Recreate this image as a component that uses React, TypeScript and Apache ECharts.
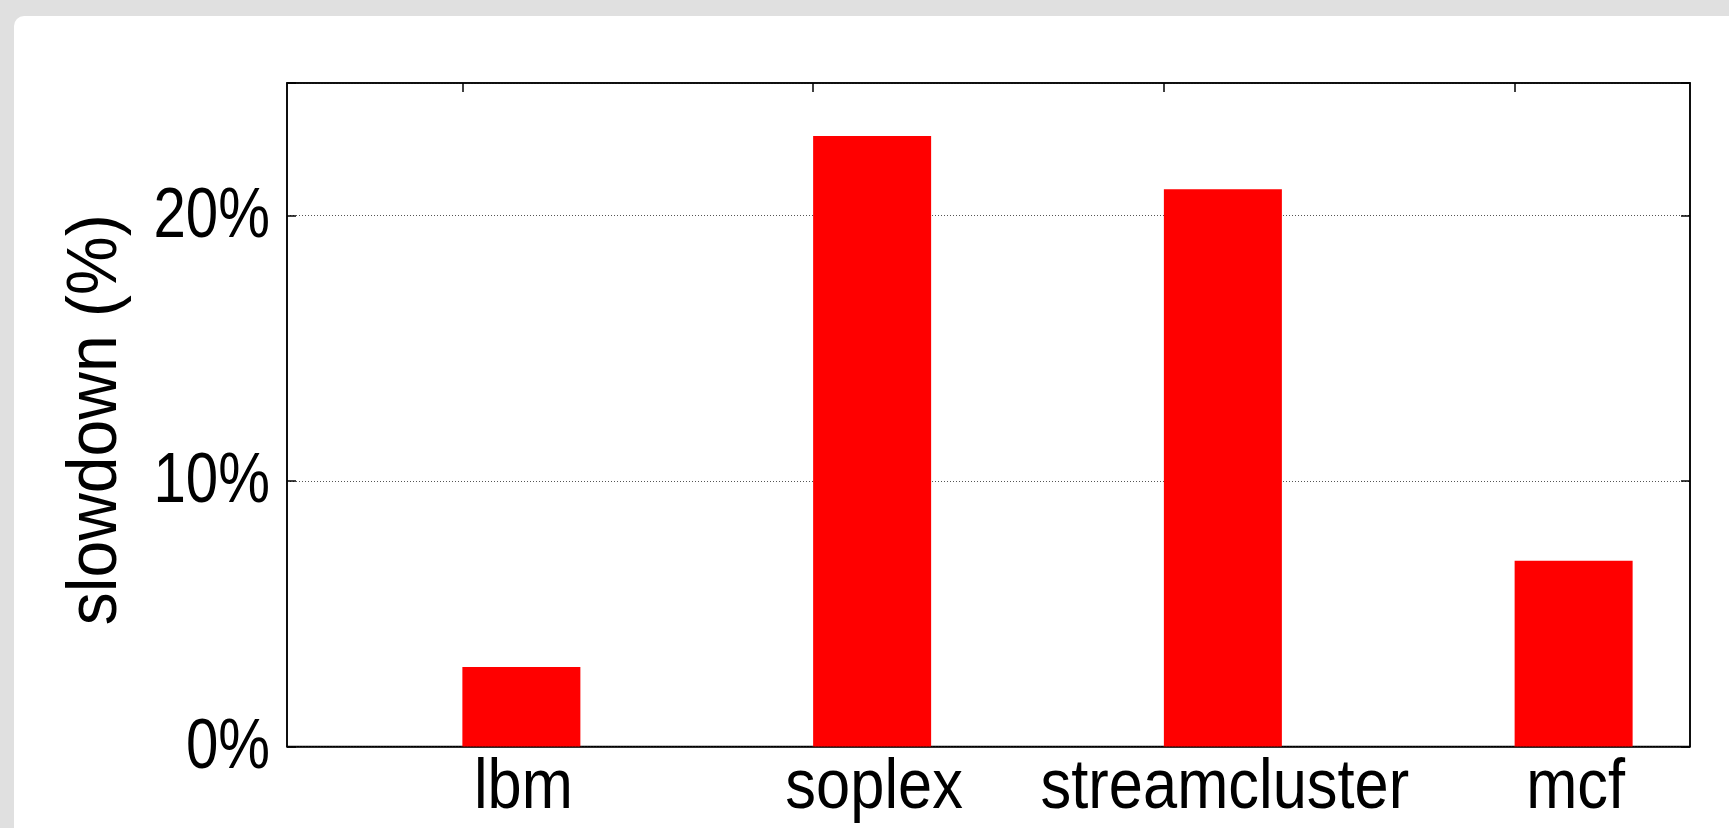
import React, { useEffect, useRef } from "react";
import * as echarts from "echarts";

// Benchmarks and their measured slowdown (percent)
const categories = ["lbm", "soplex", "streamcluster", "mcf"];
const slowdown = [3, 23, 21, 7];
const yTicks = [0, 10, 20];
const yMax = 25;
const yTitle = "slowdown (%)";

const FONT = "'Liberation Sans', Arimo, Arial, sans-serif";
const FONT_SIZE = 71;
const W = 1729;
const H = 828;

export default function App() {
  const ref = useRef<HTMLDivElement>(null);

  useEffect(() => {
    if (!ref.current) return;
    const chart = echarts.init(ref.current, undefined, { renderer: "svg" });
    const gridLeft = 287;
    const gridTop = 83;
    const gridRight = W - 1690;
    const gridBottom = H - 746.5;
    const barW = 118;
    const frame = { color: "#000", width: 1.5 };

    chart.setOption({
      animation: false,
      backgroundColor: "transparent",
      grid: {
        left: gridLeft,
        top: gridTop,
        right: gridRight,
        bottom: gridBottom,
        show: true,
        borderColor: "#000",
        borderWidth: 1.5,
        backgroundColor: "transparent",
      },
      xAxis: [
        {
          type: "category",
          data: categories,
          position: "bottom",
          boundaryGap: true,
          axisLine: { show: true, onZero: false, lineStyle: frame },
          axisTick: { show: false },
          axisLabel: { show: false },
        },
        {
          type: "category",
          data: categories,
          position: "top",
          boundaryGap: true,
          axisLine: { show: true, onZero: false, lineStyle: frame },
          axisTick: { show: true, inside: true, alignWithLabel: true, length: 9, lineStyle: frame },
          axisLabel: { show: false },
        },
      ],
      yAxis: [
        {
          type: "value",
          min: 0,
          max: yMax,
          interval: 10,
          position: "left",
          axisLine: { show: true, onZero: false, lineStyle: frame },
          axisTick: { show: true, inside: true, length: 9, lineStyle: frame },
          splitLine: { show: true, lineStyle: { color: "#555", type: [1, 2], width: 1 } },
          axisLabel: { show: false },
        },
        {
          type: "value",
          min: 0,
          max: yMax,
          interval: 10,
          position: "right",
          axisLine: { show: true, onZero: false, lineStyle: frame },
          axisTick: { show: true, inside: true, length: 9, lineStyle: frame },
          splitLine: { show: false },
          axisLabel: { show: false },
        },
      ],
      series: [
        {
          // empty slot so the red bar sits to the right of each category centre
          type: "bar",
          data: categories.map(() => "-"),
          barWidth: barW,
          barGap: "0%",
          silent: true,
        },
        {
          name: "slowdown",
          type: "bar",
          data: slowdown,
          barWidth: barW,
          barGap: "0%",
          itemStyle: { color: "#ff0000" },
        },
      ],
    });

    // Labels in a narrow sans face: positioned through the axes' own scales
    const textStyle = (text: string, align: string) => ({
      text,
      fontFamily: FONT,
      fontSize: FONT_SIZE,
      fill: "#000",
      align,
      verticalAlign: "middle",
    });
    const graphics: any[] = [];
    yTicks.forEach((v) => {
      const y = chart.convertToPixel({ yAxisIndex: 0 }, v) as number;
      graphics.push({
        type: "text",
        x: gridLeft - 17,
        y: y - 3.5,
        scaleX: 0.82,
        style: textStyle(`${v}%`, "right"),
      });
    });
    categories.forEach((c) => {
      const x = chart.convertToPixel({ xAxisIndex: 0 }, c) as number;
      graphics.push({
        type: "text",
        x: x + barW / 2 + 2,
        y: H - gridBottom + 37,
        scaleX: 0.865,
        style: textStyle(c, "center"),
      });
    });
    graphics.push({
      type: "text",
      x: 92,
      y: (gridTop + (H - gridBottom)) / 2 + 5,
      rotation: Math.PI / 2,
      scaleX: 0.93,
      style: textStyle(yTitle, "center"),
    });
    chart.setOption({ graphic: graphics });

    return () => chart.dispose();
  }, []);

  return (
    <div style={{ position: "fixed", left: 0, top: 0, width: W, height: H, background: "#e0e0e0", overflow: "hidden" }}>
      <div
        style={{
          position: "absolute",
          left: 14,
          top: 16,
          width: W + 20,
          height: H + 20,
          background: "#fff",
          borderRadius: 10,
        }}
      />
      <div ref={ref} style={{ position: "absolute", left: 0, top: 0, width: W, height: H }} />
    </div>
  );
}
